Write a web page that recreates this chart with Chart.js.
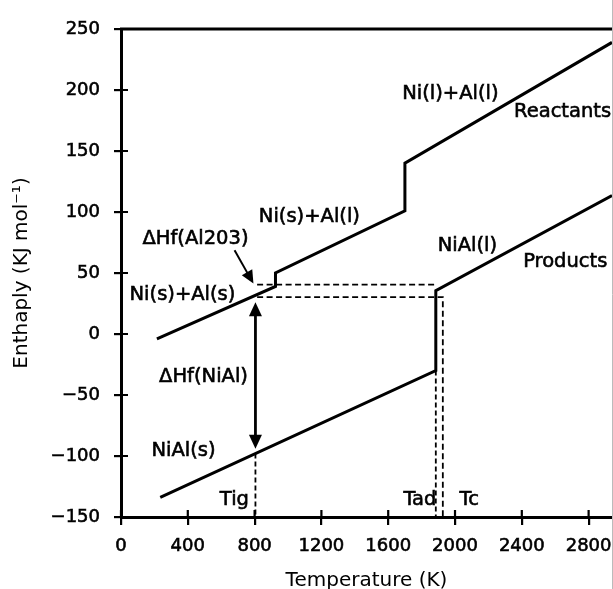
<!DOCTYPE html>
<html>
<head>
<meta charset="utf-8">
<script src="https://cdn.jsdelivr.net/npm/chart.js@4.4.1/dist/chart.umd.min.js"></script>
<style>
  html, body { margin: 0; padding: 0; background: #fff; }
  #wrap { width: 613px; height: 589px; }
</style>
</head>
<body>
<div id="wrap"><canvas id="enthalpyChart" width="613" height="589"></canvas></div>
<script>
// ── DATA ─────────────────────────────────────────────────────────────────────
const xTicks = [0, 400, 800, 1200, 1600, 2000, 2400, 2800];
const yTicks = [-150, -100, -50, 0, 50, 100, 150, 200, 250];

// Reactants: Ni(s)+Al(s) -> Ni(s)+Al(l) -> Ni(l)+Al(l)
const reactT = [215, 925, 925, 1700, 1700, 2940];
const reactH = [-4, 39, 50, 101, 140, 239];

// Products: NiAl(s) -> NiAl(l)
const prodT = [235, 1885, 1885, 2940];
const prodH = [-134, -30, 35.5, 113.5];

// dashed guide lines
const upperDashT = [815, 1890];
const upperDashH = [40.5, 40.5];
const lowerDashT = [815, 1927, 1927];
const lowerDashH = [30.3, 30.3, -150];
const tigT = [805, 805];
const tigH = [-98, -150];
const tadT = [1885, 1885];
const tadH = [-30, -150];

// arrows (from -> to)
const nialArrowT = [805, 805];
const nialArrowH = [26, -94];
const oxArrowT = [680, 793];
const oxArrowH = [68.6, 41.3];

// text labels
const labelText = ['Ni(l)+Al(l)', 'Reactants', 'Ni(s)+Al(l)', 'ΔHf(Al203)', 'NiAl(l)',
                   'Products', 'Ni(s)+Al(s)', 'ΔHf(NiAl)', 'NiAl(s)', 'Tig', 'Tad', 'Tc'];
const labelT = [1972, 2644, 1128, 446, 2074, 2660, 368, 494, 374, 679, 1790, 2085];
const labelH = [196.5, 181.7, 95.9, 77.6, 71.9, 59, 31.7, -35.2, -95.9, -136.3, -136.3, -136.3];

// ── HELPERS ──────────────────────────────────────────────────────────────────
const pts = (xs, ys) => xs.map((v, i) => ({ x: v, y: ys[i] }));
const FONT = "'DejaVu Sans', sans-serif";

const solid = (data) => ({
  data, showLine: true, borderColor: '#000', borderWidth: 3,
  pointRadius: 0, fill: false, tension: 0,
});
const dashed = (data, dash) => ({
  data, showLine: true, borderColor: '#000', borderWidth: 1.8,
  borderDash: dash, pointRadius: 0, fill: false, tension: 0,
});

function arrowHead(ctx, x0, y0, x1, y1, len, half) {
  const ang = Math.atan2(y1 - y0, x1 - x0);
  ctx.beginPath();
  ctx.moveTo(x1, y1);
  ctx.lineTo(x1 - len * Math.cos(ang) + half * Math.sin(ang), y1 - len * Math.sin(ang) - half * Math.cos(ang));
  ctx.lineTo(x1 - len * Math.cos(ang) - half * Math.sin(ang), y1 - len * Math.sin(ang) + half * Math.cos(ang));
  ctx.closePath();
  ctx.fill();
}

// frame top, inward tick halves, arrows and labels
const decor = {
  id: 'decor',
  afterDraw(chart) {
    const { ctx, chartArea: a, scales: { x, y } } = chart;
    ctx.save();
    ctx.strokeStyle = '#000';
    ctx.fillStyle = '#000';

    // top frame line
    ctx.lineWidth = 2.8;
    ctx.beginPath();
    ctx.moveTo(a.left - 1, a.top);
    ctx.lineTo(a.right, a.top);
    ctx.stroke();

    // faint right edge
    ctx.strokeStyle = '#bbb';
    ctx.lineWidth = 1;
    ctx.beginPath();
    ctx.moveTo(a.right + 0.5, 0);
    ctx.lineTo(a.right + 0.5, chart.height);
    ctx.stroke();

    // inward tick halves
    ctx.strokeStyle = '#000';
    ctx.lineWidth = 2.2;
    ctx.beginPath();
    xTicks.forEach(v => {
      const px = x.getPixelForValue(v);
      ctx.moveTo(px, a.bottom);
      ctx.lineTo(px, a.bottom - 7);
    });
    yTicks.forEach(v => {
      const py = y.getPixelForValue(v);
      ctx.moveTo(a.left, py);
      ctx.lineTo(a.left + 7, py);
    });
    ctx.stroke();

    // ΔHf(NiAl) double arrow
    const ax = x.getPixelForValue(nialArrowT[0]);
    const ay0 = y.getPixelForValue(nialArrowH[0]);
    const ay1 = y.getPixelForValue(nialArrowH[1]);
    ctx.lineWidth = 2.8;
    ctx.beginPath();
    ctx.moveTo(ax, ay0 + 10);
    ctx.lineTo(ax, ay1 - 10);
    ctx.stroke();
    arrowHead(ctx, ax, ay1, ax, ay0, 14, 6.5);
    arrowHead(ctx, ax, ay0, ax, ay1, 14, 6.5);

    // ΔHf(Al2O3) pointer
    const bx0 = x.getPixelForValue(oxArrowT[0]);
    const by0 = y.getPixelForValue(oxArrowH[0]);
    const bx1 = x.getPixelForValue(oxArrowT[1]);
    const by1 = y.getPixelForValue(oxArrowH[1]);
    ctx.lineWidth = 2;
    ctx.beginPath();
    ctx.moveTo(bx0, by0);
    ctx.lineTo(bx0 + (bx1 - bx0) * 0.7, by0 + (by1 - by0) * 0.7);
    ctx.stroke();
    arrowHead(ctx, bx0, by0, bx1, by1, 13, 6);

    // labels
    ctx.font = '19.5px ' + FONT;
    ctx.textAlign = 'center';
    ctx.textBaseline = 'middle';
    ctx.lineWidth = 0.6;
    labelText.forEach((t, i) => {
      const px = x.getPixelForValue(labelT[i]);
      const py = y.getPixelForValue(labelH[i]);
      ctx.fillText(t, px, py);
      ctx.strokeText(t, px, py);
    });
    ctx.restore();
  }
};

// ── CHART ────────────────────────────────────────────────────────────────────
new Chart(document.getElementById('enthalpyChart'), {
  type: 'scatter',
  data: {
    datasets: [
      solid(pts(reactT, reactH)),
      solid(pts(prodT, prodH)),
      dashed(pts(upperDashT, upperDashH), [6, 3.5]),
      dashed(pts(lowerDashT, lowerDashH), [6, 3.5]),
      dashed(pts(tigT, tigH), [5, 3]),
      dashed(pts(tadT, tadH), [5, 3]),
    ]
  },
  options: {
    responsive: false,
    animation: false,
    layout: { padding: { top: 29, right: 1, left: 0, bottom: 0 } },
    scales: {
      x: {
        type: 'linear',
        min: 0, max: 2940,
        afterBuildTicks: s => { s.ticks = xTicks.map(v => ({ value: v })); },
        afterFit: s => { s.height = 72; s.paddingLeft = 0; s.paddingRight = 0; },
        grid: { drawOnChartArea: false, drawTicks: true, tickLength: 8, color: '#000', lineWidth: 2.2 },
        border: { display: true, color: '#000', width: 3 },
        ticks: {
          color: '#000', font: { family: FONT, size: 18 }, padding: 11, maxRotation: 0,
          textStrokeColor: '#000', textStrokeWidth: 0.6,
          callback: v => String(v)
        },
        title: {
          display: true, text: 'Temperature (K)', color: '#000',
          font: { family: FONT, size: 20, lineHeight: 0.8 }, padding: { top: 0, bottom: 0 }
        }
      },
      y: {
        type: 'linear',
        min: -150, max: 250,
        afterBuildTicks: s => { s.ticks = yTicks.map(v => ({ value: v })); },
        afterFit: s => { s.width = 121; s.paddingTop = 0; s.paddingBottom = 0; },
        grid: { drawOnChartArea: false, drawTicks: true, tickLength: 7, color: '#000', lineWidth: 2.2 },
        border: { display: true, color: '#000', width: 3 },
        ticks: {
          color: '#000', font: { family: FONT, size: 18 }, padding: 14,
          textStrokeColor: '#000', textStrokeWidth: 0.6,
          callback: v => String(v).replace('-', '\u2212')
        },
        title: {
          display: true, text: 'Enthaply (KJ mol\u207B\u00B9)', color: '#000',
          font: { family: FONT, size: 20, lineHeight: 1.2 }, padding: { top: 10, bottom: 0 }
        }
      }
    },
    plugins: {
      legend: { display: false },
      tooltip: { enabled: false }
    }
  },
  plugins: [decor]
});
</script>
</body>
</html>
